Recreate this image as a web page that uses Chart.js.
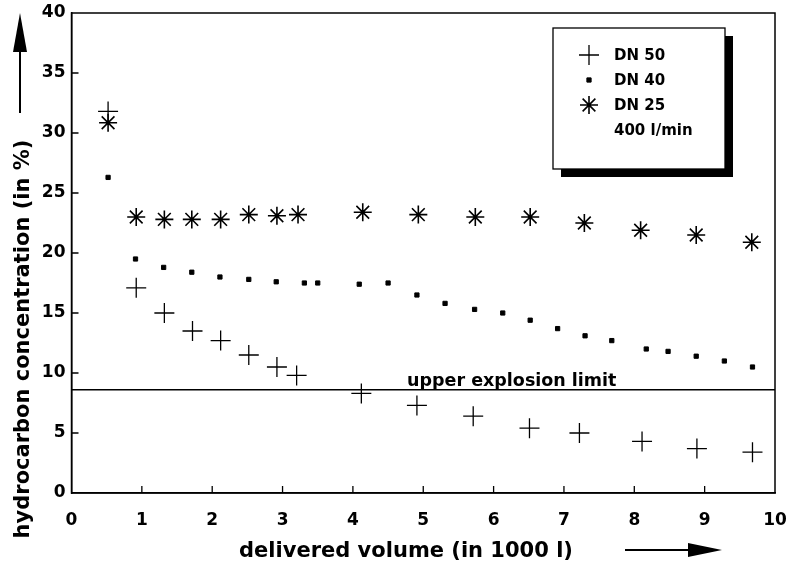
<!DOCTYPE html>
<html>
<head>
<meta charset="utf-8">
<script src="https://cdn.jsdelivr.net/npm/chart.js@4/dist/chart.umd.min.js"></script>
<style>
  html, body { margin: 0; padding: 0; background: #fff; }
  #wrap { width: 789px; height: 561px; }
</style>
</head>
<body>
<div id="wrap"><canvas id="plot"></canvas></div>
<script>
// values
const dn50X = [0.52, 0.92, 1.32, 1.72, 2.12, 2.52, 2.92, 3.2, 4.12, 4.91, 5.71, 6.51, 7.22, 8.11, 8.89, 9.68];
const dn50Y = [31.8, 17.1, 15.0, 13.5, 12.7, 11.5, 10.5, 9.8, 8.3, 7.3, 6.4, 5.4, 5.0, 4.3, 3.7, 3.4];

const dn40X = [0.52, 0.91, 1.31, 1.71, 2.11, 2.52, 2.91, 3.31, 3.5, 4.09, 4.5, 4.91, 5.31, 5.73, 6.13, 6.52, 6.91, 7.30, 7.68, 8.17, 8.48, 8.88, 9.28, 9.68];
const dn40Y = [26.3, 19.5, 18.8, 18.4, 18.0, 17.8, 17.6, 17.5, 17.5, 17.4, 17.5, 16.5, 15.8, 15.3, 15.0, 14.4, 13.7, 13.1, 12.7, 12.0, 11.8, 11.4, 11.0, 10.5];

const dn25X = [0.52, 0.92, 1.32, 1.71, 2.12, 2.52, 2.92, 3.22, 4.14, 4.93, 5.74, 6.52, 7.29, 8.09, 8.88, 9.67];
const dn25Y = [30.85, 23.0, 22.8, 22.8, 22.8, 23.2, 23.1, 23.2, 23.4, 23.2, 23.0, 23.0, 22.5, 21.9, 21.5, 20.9];

const limitX = [0, 10];
const limitY = [8.6, 8.6];

const seriesNames = ['DN 50', 'DN 40', 'DN 25'];
const legendNote = '400 l/min';
const limitLabel = 'upper explosion limit';
const xTitle = 'delivered volume (in 1000 l)';
const yTitle = 'hydrocarbon concentration (in %)';

const FONT = "'DejaVu Sans', Verdana, sans-serif";

function pts(xs, ys) {
  return xs.map((x, i) => ({ x: x, y: ys[i] }));
}

// frame, inward ticks, titles, arrows, legend box
const decorPlugin = {
  id: 'decor',
  afterDraw(chart) {
    const ctx = chart.ctx;
    const a = chart.chartArea;
    const xs = chart.scales.x;
    const ys = chart.scales.y;
    ctx.save();
    ctx.strokeStyle = '#000';
    ctx.fillStyle = '#000';

    // frame
    ctx.lineWidth = 1.5;
    ctx.strokeRect(a.left, a.top, a.right - a.left, a.bottom - a.top);

    // ticks pointing inward
    ctx.lineWidth = 1.3;
    ctx.beginPath();
    for (let v = 1; v < 10; v++) {
      const px = xs.getPixelForValue(v);
      ctx.moveTo(px, a.bottom);
      ctx.lineTo(px, a.bottom - 7);
    }
    for (let v = 5; v < 40; v += 5) {
      const py = ys.getPixelForValue(v);
      ctx.moveTo(a.left, py);
      ctx.lineTo(a.left + 7, py);
    }
    ctx.stroke();

    // limit label
    ctx.font = 'bold 17.5px ' + FONT;
    ctx.textAlign = 'left';
    ctx.textBaseline = 'alphabetic';
    ctx.fillText(limitLabel, xs.getPixelForValue(4.77), ys.getPixelForValue(8.6) - 4);

    // x title + arrow
    ctx.font = 'bold 21px ' + FONT;
    ctx.textAlign = 'center';
    ctx.fillText(xTitle, 406, 557);
    ctx.lineWidth = 2;
    ctx.beginPath();
    ctx.moveTo(625, 550);
    ctx.lineTo(690, 550);
    ctx.stroke();
    ctx.beginPath();
    ctx.moveTo(722, 550);
    ctx.lineTo(688, 543);
    ctx.lineTo(688, 557);
    ctx.closePath();
    ctx.fill();

    // y title + arrow
    ctx.save();
    ctx.translate(29, 339);
    ctx.rotate(-Math.PI / 2);
    ctx.fillText(yTitle, 0, 0);
    ctx.restore();
    ctx.beginPath();
    ctx.moveTo(20, 113);
    ctx.lineTo(20, 48);
    ctx.stroke();
    ctx.beginPath();
    ctx.moveTo(20, 13);
    ctx.lineTo(13, 52);
    ctx.lineTo(27, 52);
    ctx.closePath();
    ctx.fill();

    // legend box with shadow
    const bx = 553, by = 28, bw = 172, bh = 141;
    ctx.fillRect(bx + 8, by + 8, bw, bh);
    ctx.fillStyle = '#fff';
    ctx.fillRect(bx, by, bw, bh);
    ctx.lineWidth = 1.3;
    ctx.strokeRect(bx, by, bw, bh);
    ctx.fillStyle = '#000';
    ctx.font = 'bold 15px ' + FONT;
    ctx.textAlign = 'left';
    ctx.textBaseline = 'middle';
    const rowY = [55, 80, 105, 130];
    chart.data.datasets.slice(0, 3).forEach((ds, i) => {
      ctx.lineWidth = ds.borderWidth;
      ctx.strokeStyle = '#000';
      ctx.fillStyle = '#000';
      Chart.helpers.drawPoint(ctx, {
        pointStyle: ds.pointStyle,
        radius: ds.pointRadius,
        rotation: 0,
        borderWidth: ds.borderWidth
      }, 589, rowY[i]);
      ctx.fillText(seriesNames[i], 614, rowY[i] + 1);
    });
    ctx.fillText(legendNote, 614, rowY[3] + 1);
    ctx.restore();
  }
};

new Chart(document.getElementById('plot'), {
  type: 'scatter',
  data: {
    datasets: [
      {
        label: seriesNames[0],
        data: pts(dn50X, dn50Y),
        pointStyle: 'cross',
        pointRadius: 10,
        borderColor: '#000',
        backgroundColor: '#000',
        borderWidth: 1.3
      },
      {
        label: seriesNames[1],
        data: pts(dn40X, dn40Y),
        pointStyle: 'rect',
        pointRadius: 3,
        borderColor: '#000',
        backgroundColor: '#000',
        borderWidth: 1
      },
      {
        label: seriesNames[2],
        data: pts(dn25X, dn25Y),
        pointStyle: 'star',
        pointRadius: 9,
        borderColor: '#000',
        backgroundColor: '#000',
        borderWidth: 1.6
      },
      {
        label: 'limit',
        data: pts(limitX, limitY),
        showLine: true,
        pointRadius: 0,
        borderColor: '#000',
        borderWidth: 1.5
      }
    ]
  },
  options: {
    responsive: true,
    maintainAspectRatio: false,
    animation: false,
    events: [],
    layout: { padding: { left: 0, top: 13, right: 14, bottom: 0 } },
    plugins: {
      legend: { display: false },
      tooltip: { enabled: false }
    },
    scales: {
      x: {
        type: 'linear',
        min: 0,
        max: 10,
        afterFit: s => { s.height = 68; s.paddingLeft = 0; s.paddingRight = 0; },
        border: { display: true, color: '#000', width: 1.5 },
        grid: { drawOnChartArea: false, drawTicks: false },
        ticks: {
          stepSize: 1,
          padding: 17,
          color: '#000',
          font: { family: FONT, size: 17, weight: 'bold' }
        }
      },
      y: {
        type: 'linear',
        min: 0,
        max: 40,
        afterFit: s => { s.width = 71.5; s.paddingTop = 0; s.paddingBottom = 0; },
        border: { display: true, color: '#000', width: 1.5 },
        grid: { drawOnChartArea: false, drawTicks: false },
        ticks: {
          stepSize: 5,
          padding: 6,
          color: '#000',
          font: { family: FONT, size: 17, weight: 'bold' }
        }
      }
    }
  },
  plugins: [decorPlugin]
});
</script>
</body>
</html>
